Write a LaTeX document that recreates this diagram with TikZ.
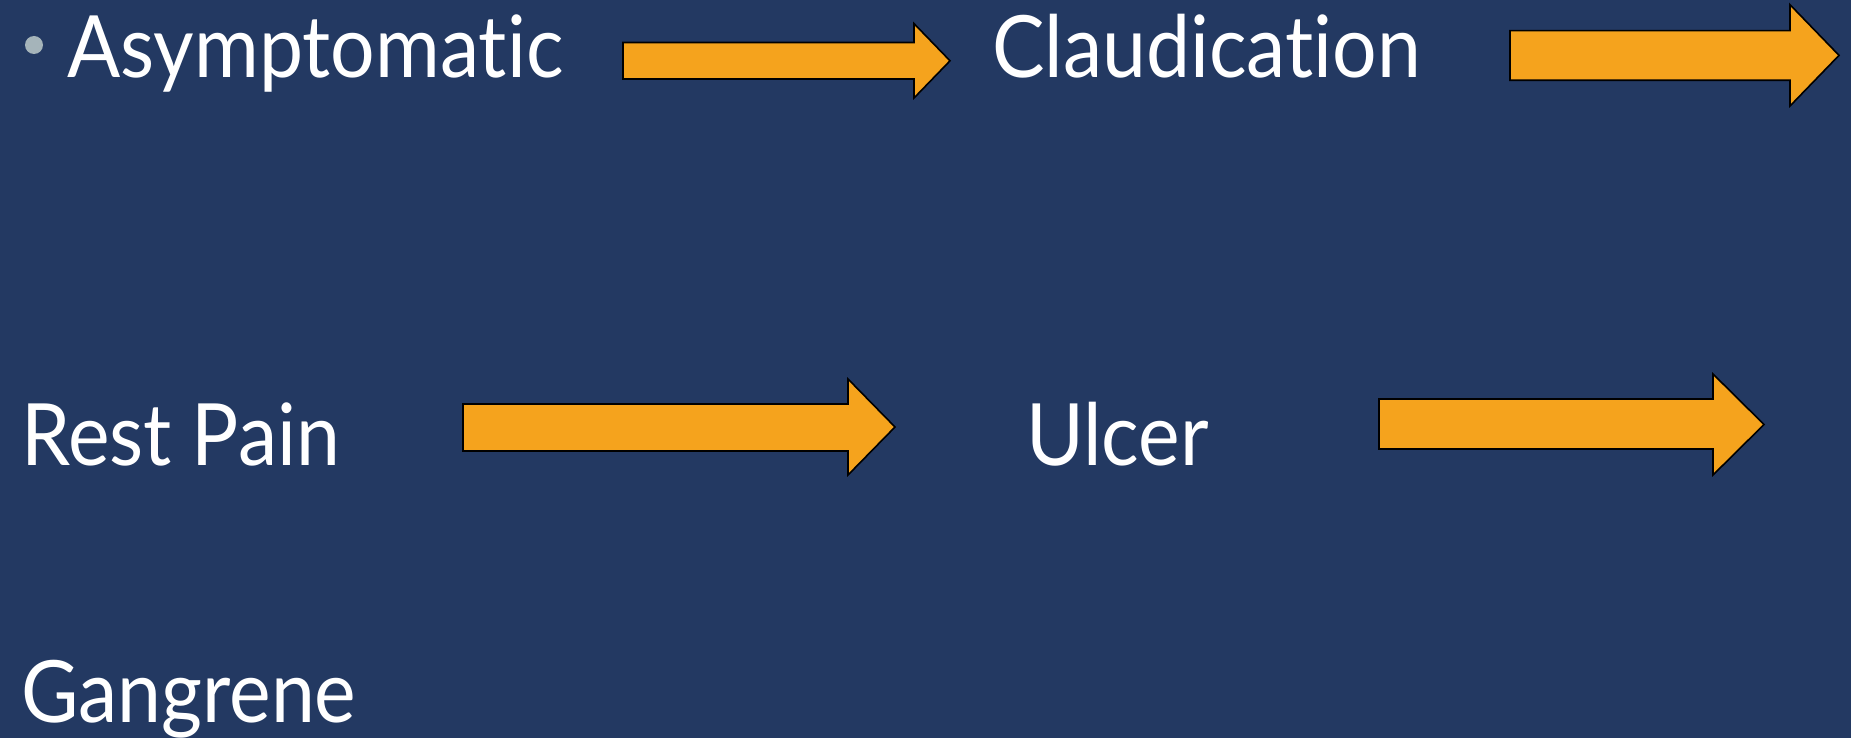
\documentclass[tikz,border=0pt]{standalone}
\usepackage{fontspec}
\setmainfont{Lato}[FakeStretch=0.915, Ligatures=NoCommon]
\definecolor{slidebg}{RGB}{35,57,98}
\definecolor{arroworange}{RGB}{245,163,29}
\definecolor{bulletgray}{RGB}{165,180,186}
\tikzset{
  x=1pt, y=-1pt,
  label/.style={anchor=base west, inner sep=0pt, text=white,
    font=\fontsize{86}{100}\selectfont},
  blockarrow/.style={fill=arroworange, draw=black, line width=1.6pt, line join=miter},
}
% block arrow: left x, head base x, tip x, body top/bottom y, head top/bottom y
\newcommand{\blockarr}[7]{%
  \draw[blockarrow] (#1,#4) -- (#2,#4) -- (#2,#6) -- (#3,{(#6+#7)/2})
    -- (#2,#7) -- (#2,#5) -- (#1,#5) -- cycle;}
\begin{document}
\begin{tikzpicture}
\fill[slidebg] (0,0) rectangle (1851,738);
\useasboundingbox (0,0) rectangle (1851,738);
% bullet
\fill[bulletgray] (34,45) circle (9);
% stage labels
\node[label] (asym) at (67,78) {Asymptomatic};
\node[label] (claud) at (992,78) {Claudication};
\node[label] (rest) at (21,465) {Rest Pain};
\node[label] (ulcer) at (1026,465) {Ulcer};
\node[label] (gang) at (21,722) {Gangrene};
% arrows between stages
\blockarr{623}{914}{950}{42.5}{79}{23.6}{98}
\blockarr{1510}{1790}{1839}{30.7}{80.3}{4.7}{106}
\blockarr{463}{848}{895}{404}{451}{379}{475}
\blockarr{1379}{1713}{1764}{399}{449}{374}{475}
\end{tikzpicture}
\end{document}
